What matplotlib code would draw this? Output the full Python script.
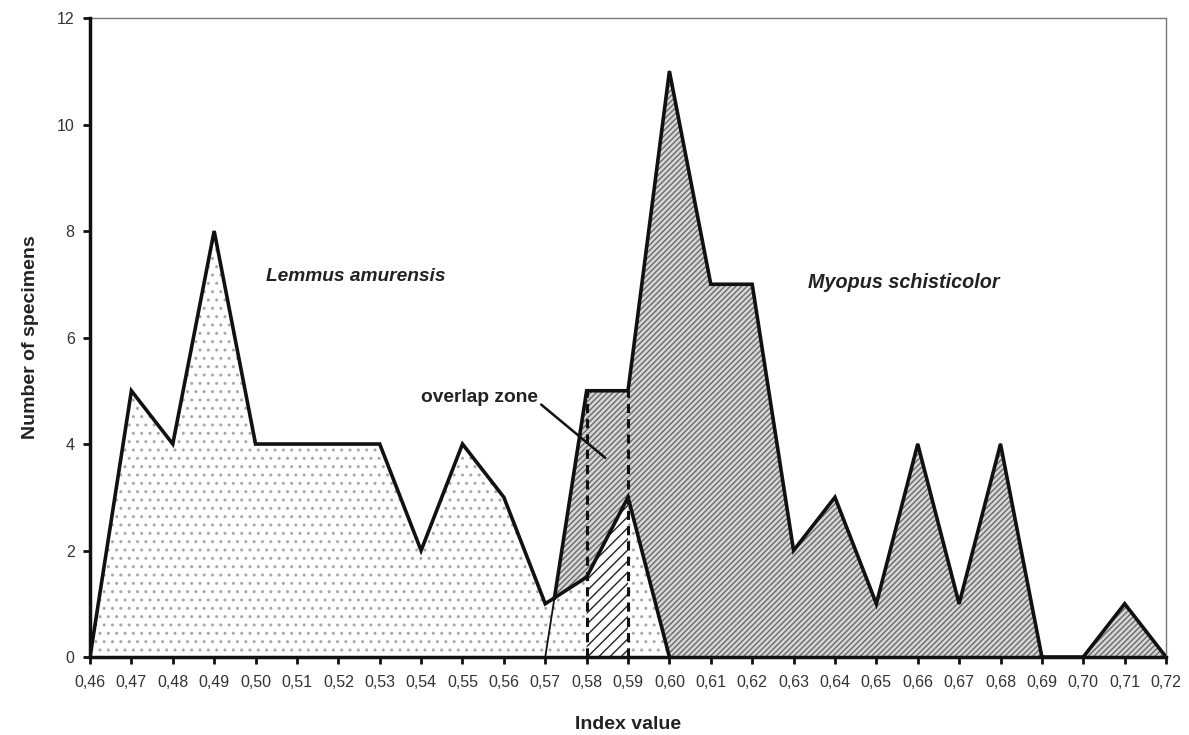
import numpy as np
import matplotlib
matplotlib.use('Agg')
import matplotlib.pyplot as plt

plt.rcParams['font.family'] = ['Liberation Sans', 'DejaVu Sans']
plt.rcParams['hatch.linewidth'] = 1.0

# data
lemmus_x = [0.46, 0.47, 0.48, 0.49, 0.50, 0.51, 0.52, 0.53, 0.54, 0.55, 0.56, 0.57, 0.58, 0.59, 0.60]
lemmus_n = [0, 5, 4, 8, 4, 4, 4, 4, 2, 4, 3, 1, 1.5, 3, 0]

myopus_x = [0.57, 0.58, 0.59, 0.60, 0.61, 0.62, 0.63, 0.64, 0.65, 0.66, 0.67, 0.68, 0.69, 0.70, 0.71, 0.72]
myopus_n = [0, 5, 5, 11, 7, 7, 2, 3, 1, 4, 1, 4, 0, 0, 1, 0]

overlap_lo = 0.58
overlap_hi = 0.59

xticks = np.round(np.arange(0.46, 0.7201, 0.01), 2)
xlabels = [('%.2f' % v).replace('.', ',') for v in xticks]
yticks = [0, 2, 4, 6, 8, 10, 12]

fig = plt.figure(figsize=(11.89, 7.35), dpi=100)
ax = fig.add_axes([0.0757, 0.1061, 0.905, 0.8694])

# Myopus: grey with dense hatching
ax.fill_between(myopus_x, myopus_n, 0, facecolor='#d6d6d6', edgecolor='#6a6a6a',
                hatch='//////', linewidth=0, zorder=1)
# Lemmus on top: dotted
ax.fill_between(lemmus_x, lemmus_n, 0, facecolor='white', edgecolor='#a8a8a8',
                hatch='..', linewidth=0, zorder=2)

# overlap zone under Lemmus line between the dashed lines
lx = np.array(lemmus_x)
ln = np.array(lemmus_n)
mask = (lx >= overlap_lo - 1e-9) & (lx <= overlap_hi + 1e-9)
ax.fill_between(lx[mask], ln[mask], 0, facecolor='white', edgecolor='#222222',
                hatch='///', linewidth=0, zorder=3)

# outlines
ax.plot(lemmus_x, lemmus_n, color='#111111', lw=2.6, zorder=5, solid_joinstyle='miter')
ax.plot(myopus_x, myopus_n, color='#111111', lw=1.3, zorder=4)
# thick part of Myopus outline starts where it crosses the Lemmus line
f = (lemmus_n[11] - myopus_n[0]) / ((myopus_n[1] - myopus_n[0]) - (lemmus_n[12] - lemmus_n[11]))
cx = myopus_x[0] + f * (myopus_x[1] - myopus_x[0])
cy = myopus_n[0] + f * (myopus_n[1] - myopus_n[0])
ax.plot([cx] + myopus_x[1:], [cy] + myopus_n[1:], color='#111111', lw=2.6, zorder=5,
        solid_joinstyle='miter')

# dashed borders of the overlap zone
top = myopus_n[myopus_x.index(overlap_lo)]
ax.vlines([overlap_lo, overlap_hi], 0, top, colors='#111111', linestyles=(0, (3, 2)),
          lw=2.2, zorder=6)

ax.text(0.5025, 7.14, 'Lemmus amurensis', fontsize=13.8, fontweight='bold',
        fontstyle='italic', color='#222222', va='center', ha='left')
ax.text(0.6335, 7.04, 'Myopus schisticolor', fontsize=14.2, fontweight='bold',
        fontstyle='italic', color='#222222', va='center', ha='left')
ax.annotate('overlap zone', xy=(0.5845, 3.74), xytext=(0.5542, 4.88),
            fontsize=13.8, fontweight='bold', color='#222222', ha='center', va='center',
            arrowprops=dict(arrowstyle='-', color='#111111', lw=1.8,
                            shrinkA=0, shrinkB=0, relpos=(1.0, 0.2)), zorder=7)

ax.set_xlim(0.46, 0.72)
ax.set_ylim(0, 12)
ax.set_xticks(xticks)
ax.set_xticklabels(xlabels)
ax.set_yticks(yticks)
ax.tick_params(direction='out', length=5, width=2, labelcolor='#333333', color='#111111')
ax.tick_params(axis='x', pad=8, labelsize=11.5)
ax.tick_params(axis='y', pad=6, labelsize=11.5)

for s in ['left', 'bottom']:
    ax.spines[s].set_linewidth(2.5)
    ax.spines[s].set_color('#111111')
    ax.spines[s].set_zorder(8)
for s in ['top', 'right']:
    ax.spines[s].set_linewidth(1)
    ax.spines[s].set_color('#777777')

ax.set_xlabel('Index value', fontsize=14, fontweight='bold', color='#222222', labelpad=19)
ax.set_ylabel('Number of specimens', fontsize=14, fontweight='bold', color='#222222',
              labelpad=13)

fig.savefig('out.png', dpi=100)
